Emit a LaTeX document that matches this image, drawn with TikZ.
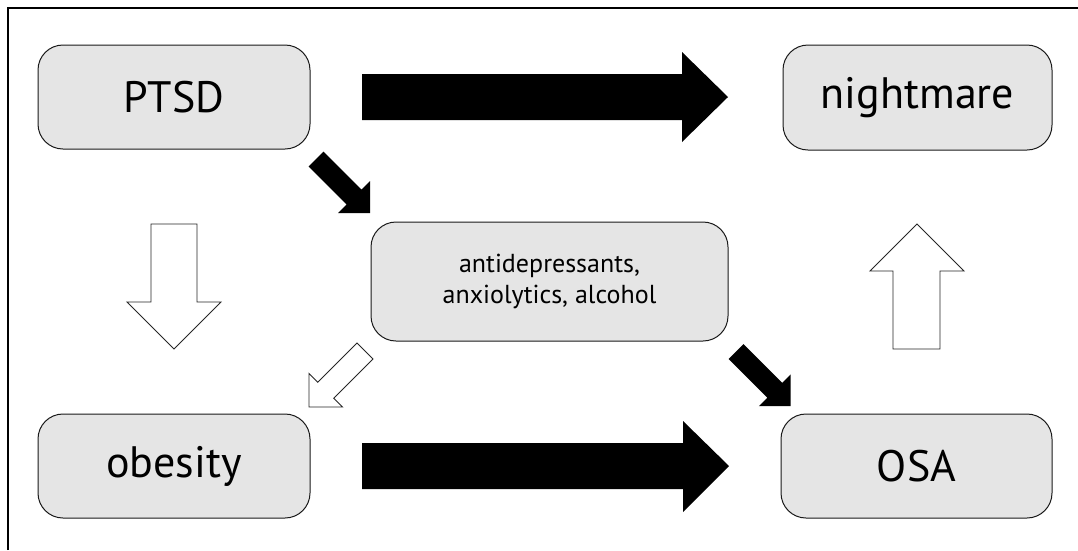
\documentclass[tikz,border=0pt]{standalone}
\usepackage{fontspec}
\setmainfont{PT Sans}
\newcommand\blockarrowpath[4]{(0,-#2) -- ({#1-#4},-#2) -- ({#1-#4},-#3) -- (#1,0) -- ({#1-#4},#3) -- ({#1-#4},#2) -- (0,#2) -- cycle}
\begin{document}
\begin{tikzpicture}[x=1pt,y=-1pt,
  box/.style={draw=black!90,line width=1pt,rounded corners=25pt,fill=black!10,inner sep=0pt},
  bigtxt/.style={font=\fontsize{44}{48}\selectfont},
  smalltxt/.style={font=\fontsize{26}{31}\selectfont,align=center},
  solidarrow/.style={fill=black,draw=none},
  openarrow/.style={fill=white,draw=black!85,line width=0.9pt}]
\useasboundingbox (0,0) rectangle (1078,550);
\draw[line width=2pt] (8,550) -- (8,8) -- (1078,8);
% boxes
\node[box,bigtxt,minimum width=272pt,minimum height=104pt] (ptsd) at (174,97) {PTSD};
\node[box,bigtxt,minimum width=269pt,minimum height=105pt] (night) at (917.5,97.5) {nightmare};
\node[box,bigtxt,minimum width=272pt,minimum height=104pt] (obes) at (174,466) {obesity};
\node[box,bigtxt,minimum width=271pt,minimum height=104pt] (osa) at (916.5,466) {OSA};
\node[box,smalltxt,minimum width=357pt,minimum height=119pt] (drug) at (549.5,281.5) {antidepressants,\\anxiolytics, alcohol};
% horizontal solid arrows
\fill[solidarrow] (362,74) -- (682,74) -- (682,52) -- (728,97) -- (682,142) -- (682,120) -- (362,120) -- cycle;
\fill[solidarrow] (362,443) -- (683,443) -- (683,421) -- (729,466) -- (683,512) -- (683,489) -- (362,489) -- cycle;
% vertical open arrows
\draw[openarrow] (151,224) -- (197,224) -- (197,302) -- (221,302) -- (174,349) -- (127,302) -- (151,302) -- cycle;
\draw[openarrow] (893,349) -- (940,349) -- (940,271) -- (964,271) -- (917,224) -- (870,271) -- (893,271) -- cycle;
% diagonal solid arrows
\begin{scope}[shift={(316,159)},rotate=-45]
\fill[solidarrow] \blockarrowpath{76.4}{10.5}{22.6}{22.6};
\end{scope}
\begin{scope}[shift={(736,351.5)},rotate=-45]
\fill[solidarrow] \blockarrowpath{77.4}{10.5}{22.6}{22.6};
\end{scope}
% diagonal open arrow
\begin{scope}[shift={(365,351)},rotate=-135]
\draw[openarrow] \blockarrowpath{79.2}{11.3}{23.7}{23.7};
\end{scope}
\end{tikzpicture}
\end{document}
